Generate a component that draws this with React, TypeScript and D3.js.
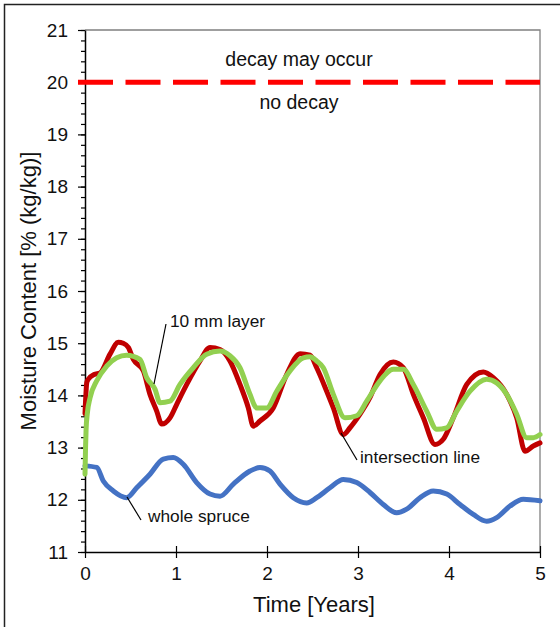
import React, { useEffect, useRef } from 'react'
import * as d3 from 'd3'

// time [years] / moisture content [% (kg/kg)]
const layerTime = [0, 0.02, 0.036, 0.1, 0.165, 0.275, 0.366, 0.42, 0.476, 0.531, 0.641, 0.714, 0.788, 0.843, 0.934, 1.008, 1.118, 1.264, 1.374, 1.484, 1.593, 1.703, 1.795, 1.849, 1.923, 2.069, 2.216, 2.363, 2.473, 2.546, 2.656, 2.729, 2.838, 2.912, 3.022, 3.132, 3.242, 3.388, 3.498, 3.608, 3.718, 3.846, 3.937, 4.047, 4.195, 4.377, 4.487, 4.634, 4.744, 4.835, 4.926, 5.0]
const layerMC = [13.65, 14.25, 14.31, 14.4, 14.43, 14.79, 15.02, 15.0, 14.92, 14.69, 14.47, 14.02, 13.7, 13.45, 13.57, 13.83, 14.21, 14.66, 14.92, 14.88, 14.66, 14.21, 13.76, 13.41, 13.51, 13.76, 14.4, 14.8, 14.77, 14.53, 14.08, 13.76, 13.25, 13.38, 13.64, 13.96, 14.4, 14.64, 14.53, 14.02, 13.57, 13.06, 13.16, 13.57, 14.21, 14.45, 14.34, 14.02, 13.57, 12.93, 13.03, 13.09]

const interTime = [0, 0.006, 0.012, 0.025, 0.055, 0.129, 0.238, 0.348, 0.458, 0.604, 0.678, 0.769, 0.824, 0.934, 1.044, 1.19, 1.337, 1.484, 1.593, 1.703, 1.813, 1.887, 1.997, 2.107, 2.253, 2.399, 2.473, 2.546, 2.619, 2.729, 2.857, 2.986, 3.096, 3.242, 3.388, 3.498, 3.608, 3.755, 3.865, 3.975, 4.085, 4.231, 4.414, 4.524, 4.634, 4.744, 4.854, 4.926, 5.0]
const interMC = [12.49, 13.0, 13.35, 13.65, 13.95, 14.28, 14.56, 14.72, 14.77, 14.69, 14.34, 14.12, 13.86, 13.89, 14.21, 14.53, 14.79, 14.85, 14.76, 14.53, 14.02, 13.76, 13.76, 14.08, 14.47, 14.72, 14.74, 14.66, 14.53, 14.02, 13.57, 13.61, 13.89, 14.28, 14.5, 14.5, 14.21, 13.7, 13.35, 13.38, 13.7, 14.08, 14.31, 14.24, 14.02, 13.64, 13.19, 13.19, 13.25]

const spruceTime = [0, 0.129, 0.201, 0.311, 0.458, 0.568, 0.714, 0.86, 0.97, 1.08, 1.227, 1.374, 1.484, 1.63, 1.813, 1.923, 2.033, 2.143, 2.289, 2.436, 2.546, 2.692, 2.838, 2.986, 3.132, 3.278, 3.425, 3.535, 3.681, 3.827, 3.975, 4.121, 4.267, 4.414, 4.524, 4.67, 4.816, 5.0]
const spruceMC = [12.65, 12.62, 12.36, 12.17, 12.04, 12.23, 12.49, 12.78, 12.81, 12.68, 12.33, 12.11, 12.07, 12.3, 12.55, 12.62, 12.55, 12.3, 12.04, 11.94, 12.04, 12.23, 12.39, 12.33, 12.14, 11.91, 11.75, 11.82, 12.04, 12.17, 12.11, 11.91, 11.72, 11.59, 11.66, 11.88, 12.01, 11.98]

const xTicks = [0, 1, 2, 3, 4, 5]
const yTicks = [11, 12, 13, 14, 15, 16, 17, 18, 19, 20, 21]
const decayLimit = 20

const FONT = '"Liberation Sans", Arial, sans-serif'

const App = () => {
    const svgRef = useRef(null)
    const width = 560
    const height = 627
    const margin = { left: 85, right: 20, top: 30, bottom: 75 }

    useEffect(() => {
        const svg = d3.select(svgRef.current)
        svg.selectAll('*').remove()

        const x = d3.scaleLinear().domain([0, 5]).range([margin.left, width - margin.right])
        const y = d3.scaleLinear().domain([11, 21]).range([height - margin.bottom, margin.top])

        // outer frame
        svg.append('rect')
            .attr('x', 4.5).attr('y', 4.5)
            .attr('width', 570).attr('height', 640)
            .attr('fill', 'none').attr('stroke', '#222').attr('stroke-width', 1.5)

        // plot frame (top, right)
        svg.append('path')
            .attr('d', `M${x(0)},${y(21)}H${x(5)}V${y(11)}`)
            .attr('fill', 'none').attr('stroke', '#808080').attr('stroke-width', 1.3)

        // y axis with minor ticks
        const minor = d3.range(11, 21.001, 0.2)
        const yMinor = svg.append('g').attr('transform', `translate(${x(0)},0)`)
            .call(d3.axisLeft(y).tickValues(minor).tickSize(4).tickFormat(() => ''))
        yMinor.select('.domain').remove()
        yMinor.selectAll('line').attr('stroke', '#000').attr('stroke-width', 1.2)

        const yAxis = svg.append('g').attr('transform', `translate(${x(0)},0)`)
            .call(d3.axisLeft(y).tickValues(yTicks).tickSize(7).tickSizeOuter(0).tickPadding(10).tickFormat(d3.format('d')))
        yAxis.select('.domain').attr('stroke', '#000').attr('stroke-width', 1.5)
        yAxis.selectAll('line').attr('stroke', '#000').attr('stroke-width', 1.2)
        yAxis.selectAll('text').attr('font-family', FONT).attr('font-size', 19).attr('fill', '#111')

        // x axis, ticks cross the axis
        const xAxis = svg.append('g').attr('transform', `translate(0,${y(11)})`)
            .call(d3.axisBottom(x).tickValues(xTicks).tickSize(6).tickSizeOuter(0).tickPadding(9).tickFormat(d3.format('d')))
        xAxis.select('.domain').attr('stroke', '#000').attr('stroke-width', 1.5)
        xAxis.selectAll('line').attr('y1', -6).attr('stroke', '#000').attr('stroke-width', 1.2)
        xAxis.selectAll('text').attr('font-family', FONT).attr('font-size', 19).attr('fill', '#111')

        // decay threshold
        svg.append('line')
            .attr('x1', x(0) - 7).attr('x2', x(5))
            .attr('y1', y(decayLimit)).attr('y2', y(decayLimit))
            .attr('stroke', '#ff0000').attr('stroke-width', 5)
            .attr('stroke-dasharray', '35 12.5')

        svg.append('text').attr('x', 299).attr('y', y(decayLimit) - 16)
            .attr('text-anchor', 'middle').attr('font-family', FONT).attr('font-size', 19.5).attr('fill', '#111')
            .text('decay may occur')
        svg.append('text').attr('x', 299).attr('y', y(decayLimit) + 27)
            .attr('text-anchor', 'middle').attr('font-family', FONT).attr('font-size', 19.5).attr('fill', '#111')
            .text('no decay')

        const line = d3.line().x(d => x(d[0])).y(d => y(d[1])).curve(d3.curveMonotoneX)
        const series = [
            { t: spruceTime, v: spruceMC, color: '#4472c4', w: 5 },
            { t: layerTime, v: layerMC, color: '#c00000', w: 5 },
            { t: interTime, v: interMC, color: '#92d050', w: 5 },
        ]
        series.forEach(s => {
            svg.append('path')
                .datum(s.t.map((t, i) => [t, s.v[i]]))
                .attr('d', line)
                .attr('fill', 'none')
                .attr('stroke', s.color)
                .attr('stroke-width', s.w)
                .attr('stroke-linejoin', 'round')
                .attr('stroke-linecap', 'round')
        })

        // annotations with leader lines
        const notes = [
            { label: '10 mm layer', tx: 170, ty: 327, from: [166, 324], to: [154, 384] },
            { label: 'whole spruce', tx: 148, ty: 522, from: [141, 520], to: [127, 497] },
            { label: 'intersection line', tx: 360, ty: 463, from: [357, 460], to: [341, 433] },
        ]
        notes.forEach(n => {
            svg.append('line')
                .attr('x1', n.from[0]).attr('y1', n.from[1])
                .attr('x2', n.to[0]).attr('y2', n.to[1])
                .attr('stroke', '#000').attr('stroke-width', 1.2)
            svg.append('text').attr('x', n.tx).attr('y', n.ty)
                .attr('font-family', FONT).attr('font-size', 17.3).attr('fill', '#111')
                .text(n.label)
        })

        // axis titles
        svg.append('text')
            .attr('transform', `translate(36,${(y(11) + y(21)) / 2}) rotate(-90)`)
            .attr('text-anchor', 'middle')
            .attr('font-family', FONT).attr('font-size', 22).attr('fill', '#111')
            .text('Moisture Content [% (kg/kg)]')
        svg.append('text')
            .attr('x', 314).attr('y', 612)
            .attr('text-anchor', 'middle')
            .attr('font-family', FONT).attr('font-size', 22).attr('fill', '#111')
            .text('Time [Years]')
    }, [])

    return (
        <svg ref={svgRef} width={width} height={height}
            style={{ position: 'absolute', left: 0, top: 0, background: '#fff' }}>
        </svg>
    )
}

export default App
